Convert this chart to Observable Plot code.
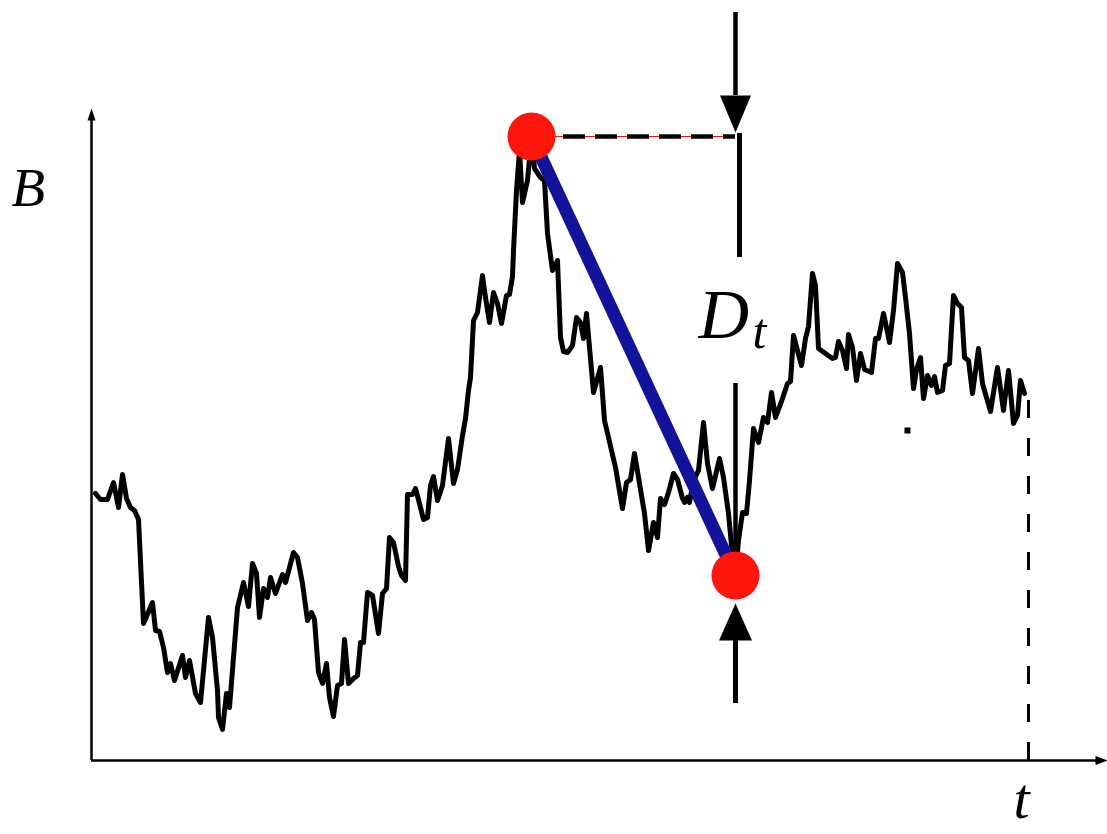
<!DOCTYPE html>
<html>
<head>
<meta charset="utf-8">
<script src="https://cdn.jsdelivr.net/npm/d3@7"></script>
<script src="https://cdn.jsdelivr.net/npm/@observablehq/plot@0.6"></script>
<style>
  html, body { margin: 0; padding: 0; background: #fff; }
  #chart svg { display: block; }
</style>
</head>
<body>
<div id="chart"></div>
<script>
// Brownian path: time t and value B
const tValues = [4,9,16,22,27,31,35,39,43,47,52,61,64,68,72,76,79,83,91,94,98,104,109,117,121,126,127,131,135,138,146,152,157,161,165,168,172,176,179,184,191,194,202,206,211,216,220,223,227,231,235,238,242,246,250,253,257,262,266,269,272,276,281,287,291,295,298,302,307,310,314,316,321,324,328,332,336,339,342,346,351,357,362,366,371,374,377,379,382,386,391,394,398,402,406,410,415,418,421,422,425,428,431,436,440,443,449,453,456,461,466,469,472,476,481,485,489,492,495,502,509,513,517,524,531,535,539,543,548,553,557,562,566,569,573,577,582,586,591,593,596,598,602,607,612,616,621,628,632,637,640,644,647,651,655,658,662,667,672,676,680,684,691,696,699,702,710,714,717,721,724,727,734,741,744,747,751,755,757,761,765,769,773,780,784,787,792,795,798,802,806,811,814,818,822,825,829,832,836,840,843,846,851,854,858,862,866,870,873,877,881,887,891,895,899,906,912,917,922,926,929,933];
const BValues = [267,261,261,278,253,286,262,253,250,241,137,158,130,129,113,88,97,80,105,83,100,67,58,143,123,70,43,31,67,53,153,178,154,197,187,143,172,163,183,167,186,178,208,203,177,140,148,141,88,77,97,63,44,75,77,121,77,82,85,118,118,168,165,127,167,172,223,218,194,185,180,266,266,272,257,241,243,275,284,260,275,322,277,291,325,342,370,383,440,448,485,463,438,468,457,437,465,466,484,510,570,610,558,580,624,592,583,580,527,490,500,423,409,408,415,443,438,422,447,368,393,340,323,293,252,278,281,307,277,247,210,238,223,262,256,268,287,281,262,258,263,258,280,290,338,297,272,302,283,247,215,185,220,248,247,280,332,318,343,338,368,343,362,377,379,425,395,422,434,487,475,412,407,402,403,419,410,392,426,413,380,407,391,388,422,422,447,433,418,450,497,488,463,427,372,391,403,362,385,375,384,368,370,395,397,465,457,453,403,400,367,412,377,363,349,393,350,390,337,345,380,367];
const horizon = 937;          // time t marked by the dashed line
const horizonLevel = 360;     // top of the dashed line
const strayMark = [{t: 816, B: 330}];

// annotation shafts (B ranges) at the drawdown time
const topShaft = [748, 665];
const upperSegment = [627, 503];
const lowerSegment = [377, 205];
const bottomShaft = [120, 57];

const labels = [
  {t: -80, B: 555, text: "B", size: 55},
  {t: 607, B: 423, text: "D", size: 70},
  {t: 661, B: 413, text: "t", size: 50},
  {t: 922, B: -57, text: "t", size: 58}
];

const path = tValues.map((t, i) => ({t, B: BValues[i]}));
const iPeak = d3.maxIndex(path, d => d.B);
const peak = path[iPeak];
const after = path.slice(iPeak);
const trough = after[d3.minIndex(after, d => d.B)];

const RED = "#fe150c";
const BLUE = "#12129a";
const tri = (pts) => ({draw(ctx) { ctx.moveTo(pts[0][0], pts[0][1]); for (let k = 1; k < pts.length; k++) ctx.lineTo(pts[k][0], pts[k][1]); ctx.closePath(); }});
const downHead = tri([[0, -4], [-15.5, -41], [15.5, -41]]);
const upHead = tri([[0, 28], [-16.5, 65], [16.5, 65]]);
const yAxisHead = tri([[0, 0], [-4, 12], [4, 12]]);
const xAxisHead = tri([[0, 0], [-12, -4.5], [-12, 4.5]]);

const chart = Plot.plot({
  width: 1107,
  height: 834,
  margin: 0,
  style: {background: "#fff", overflow: "visible"},
  x: {domain: [-91, 1016], axis: null},
  y: {domain: [-74, 760], axis: null},
  marks: [
    // axes
    Plot.ruleY([0], {x1: 0, x2: 1006, stroke: "black", strokeWidth: 2.5}),
    Plot.dot([{t: 1016, B: 0}], {x: "t", y: "B", symbol: xAxisHead, r: 5, fill: "black", stroke: "none"}),
    Plot.ruleX([0], {y1: 0, y2: 640, stroke: "black", strokeWidth: 2.5}),
    Plot.dot([{t: 0, B: 652}], {x: "t", y: "B", symbol: yAxisHead, r: 5, fill: "black", stroke: "none"}),
    // dashed horizon line
    Plot.ruleX([horizon], {y1: horizonLevel, y2: 0, stroke: "black", strokeWidth: 3, strokeDasharray: "18,20"}),
    Plot.dot(strayMark, {x: "t", y: "B", symbol: "square", r: 3.4, fill: "black", stroke: "none"}),
    // Brownian path
    Plot.line(path, {x: "t", y: "B", stroke: "black", strokeWidth: 5, strokeLinejoin: "round"}),
    // running max level
    Plot.ruleY([peak.B], {x1: peak.t, x2: trough.t, stroke: RED, strokeWidth: 1.2}),
    Plot.ruleY([peak.B], {x1: peak.t + 32, x2: trough.t, stroke: "black", strokeWidth: 4.5, strokeDasharray: "22,10"}),
    // drawdown link
    Plot.link([{x1: peak.t, y1: peak.B, x2: trough.t, y2: trough.B}], {x1: "x1", y1: "y1", x2: "x2", y2: "y2", stroke: BLUE, strokeWidth: 13}),
    // measurement arrows
    Plot.ruleX([trough.t], {y1: topShaft[0], y2: topShaft[1], stroke: "black", strokeWidth: 4.5}),
    Plot.dot([{t: trough.t, B: peak.B}], {x: "t", y: "B", symbol: downHead, r: 5, fill: "black", stroke: "none"}),
    Plot.ruleX([trough.t], {y1: upperSegment[0], y2: upperSegment[1], dx: 4, stroke: "black", strokeWidth: 5}),
    Plot.ruleX([trough.t], {y1: lowerSegment[0], y2: lowerSegment[1], stroke: "black", strokeWidth: 4.5}),
    Plot.ruleX([trough.t], {y1: bottomShaft[0], y2: bottomShaft[1], stroke: "black", strokeWidth: 5}),
    Plot.dot([trough], {x: "t", y: "B", symbol: upHead, r: 5, fill: "black", stroke: "none"}),
    // peak and trough
    Plot.dot([peak, trough], {x: "t", y: "B", r: 24, fill: RED, stroke: "none"}),
    // labels
    Plot.text(labels, {x: "t", y: "B", text: "text", fontSize: "size", textAnchor: "start", lineAnchor: "bottom",
      fontFamily: "Liberation Serif", fontStyle: "italic", fill: "black"})
  ]
});
document.getElementById("chart").appendChild(chart);
</script>
</body>
</html>
